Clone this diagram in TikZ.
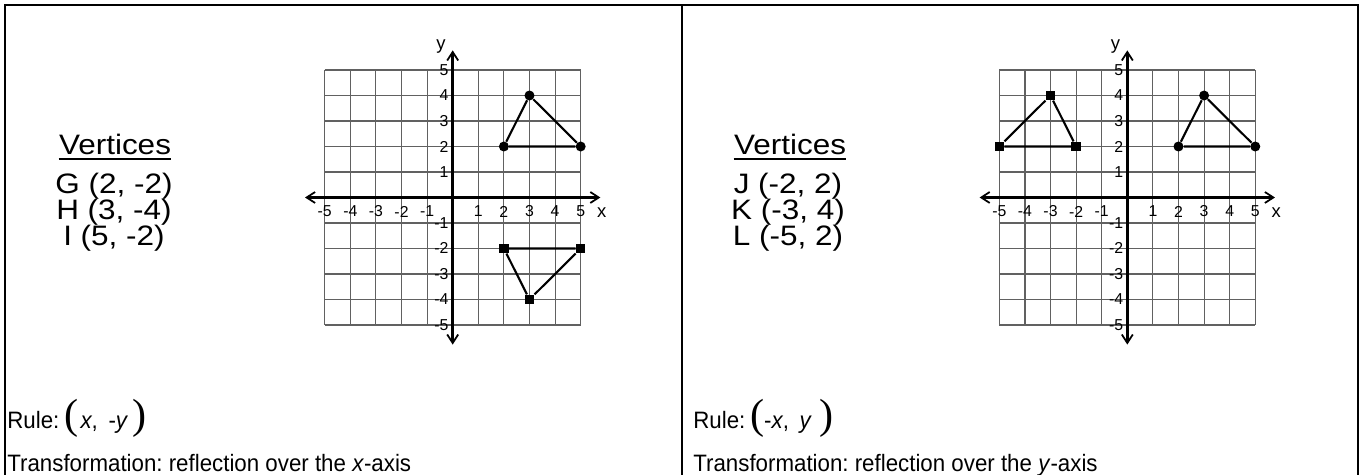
\documentclass[tikz,border=0pt]{standalone}
\usepackage{fontspec}
\setmainfont{Liberation Sans}
\newfontfamily\parenfont{Liberation Serif}
\newfontfamily\vtxfont{Liberation Sans}[FakeStretch=1.12]
\newfontfamily\rulefont{Liberation Sans}[FakeStretch=0.94]
\usetikzlibrary{arrows.meta}
\frenchspacing

\tikzset{
  panel/.style={line width=1.2pt},
  gridline/.style={black!62, line width=0.65pt},
  axisline/.style={line width=1.6pt,
    {Straight Barb[length=0.17cm,width=0.22cm,line width=1pt]}-{Straight Barb[length=0.17cm,width=0.22cm,line width=1pt]}},
  ticklab/.style={font=\fontsize{9}{9}\selectfont, inner sep=0pt},
  axislab/.style={font=\fontsize{10.5}{10.5}\selectfont, inner sep=0pt},
  predot/.style={circle, fill, inner sep=0pt, minimum size=0.2cm},
  imgdot/.style={rectangle, fill, inner sep=0pt, minimum size=0.19cm},
  tri/.style={line width=1.2pt},
  vtxtext/.style={font=\vtxfont\fontsize{16}{16}\selectfont, inner sep=0pt, anchor=base},
  ruletext/.style={font=\rulefont\fontsize{13.5}{13.5}\selectfont, inner sep=0pt, anchor=base west},
}

% big parentheses round the rule
\newcommand{\lparen}{{\parenfont\fontsize{24}{24}\selectfont(}}
\newcommand{\rparen}{{\parenfont\fontsize{24}{24}\selectfont)}}

% grid, axes and tick labels, #1 = name prefix
\newcommand{\coordplane}[1]{%
  \foreach \k in {-5,...,5} {
    \draw[gridline] (\k,-5) -- (\k,5);
    \draw[gridline] (-5,\k) -- (5,\k);
  }
  \draw[axisline] (-5.77,0) -- (5.77,0);
  \draw[axisline] (0,-5.77) -- (0,5.77);
  \foreach \k in {-5,...,-1,1,2,...,5} {
    \node[ticklab] (#1x\k) at (\k,-0.55) {\k};
    \node[ticklab, anchor=east] (#1y\k) at (-0.15,\k) {\k};
  }
  \node[axislab] (#1xname) at (5.82,-0.6) {x};
  \node[axislab] (#1yname) at (-0.46,5.92) {y};
}

\begin{document}
\begin{tikzpicture}[x=0.02cm, y=0.02cm]
  \useasboundingbox (0,0) rectangle (1359,475);
  \clip (0,0) rectangle (1359,475);

  % frame
  \draw[panel] (5,-20) -- (5,470) -- (1358,470) -- (1358,-20);
  \draw[panel] (682,-20) -- (682,470);

  % left: reflection over x-axis
  \begin{scope}[shift={(452.7,277.5)}, x=0.512cm, y=0.51cm]
    \coordplane{L}
    \node[predot] (pG) at (2,2) {};
    \node[predot] (pH) at (3,4) {};
    \node[predot] (pI) at (5,2) {};
    \draw[tri] (pG) -- (pH) -- (pI) -- (pG);
    \node[imgdot] (G) at (2,-2) {};
    \node[imgdot] (H) at (3,-4) {};
    \node[imgdot] (I) at (5,-2) {};
    \draw[tri] (G) -- (H) -- (I) -- (G);
  \end{scope}

  \node[vtxtext] (vhL) at (115,320) {Vertices};
  \draw[line width=1.1pt] ([yshift=-2.3pt]vhL.base west) -- ([yshift=-2.3pt]vhL.base east);
  \foreach \lab/\yy [count=\i] in {{G (2, -2)}/281, {H (3, -4)}/255, {I (5, -2)}/229}
    \node[vtxtext] (vL\i) at (114,\yy) {\lab};

  \node[ruletext] (ruleL) at (7,46) {Rule:\hspace{0.2em}\lparen\hspace{0.1em}\textit{x},\hspace{0.45em}-\textit{y}\,\rparen};
  \node[ruletext] (trL) at (7,3) {Transformation: reflection over the \textit{x}-axis};

  % right: reflection over y-axis
  \begin{scope}[shift={(1127.3,277.5)}, x=0.512cm, y=0.51cm]
    \coordplane{R}
    \node[predot] (qJ) at (2,2) {};
    \node[predot] (qK) at (3,4) {};
    \node[predot] (qL) at (5,2) {};
    \draw[tri] (qJ) -- (qK) -- (qL) -- (qJ);
    \node[imgdot] (J) at (-2,2) {};
    \node[imgdot] (K) at (-3,4) {};
    \node[imgdot] (L) at (-5,2) {};
    \draw[tri] (J) -- (K) -- (L) -- (J);
  \end{scope}

  \node[vtxtext] (vhR) at (790,320) {Vertices};
  \draw[line width=1.1pt] ([yshift=-2.3pt]vhR.base west) -- ([yshift=-2.3pt]vhR.base east);
  \foreach \lab/\yy [count=\i] in {{J (-2, 2)}/281, {K (-3, 4)}/255, {L (-5, 2)}/229}
    \node[vtxtext] (vR\i) at (788,\yy) {\lab};

  \node[ruletext] (ruleR) at (693,46) {Rule:\hspace{0.2em}\lparen-\textit{x},\hspace{0.45em}\textit{y}\hspace{0.3em}\rparen};
  \node[ruletext] (trR) at (693,3) {Transformation: reflection over the \textit{y}-axis};
\end{tikzpicture}
\end{document}
